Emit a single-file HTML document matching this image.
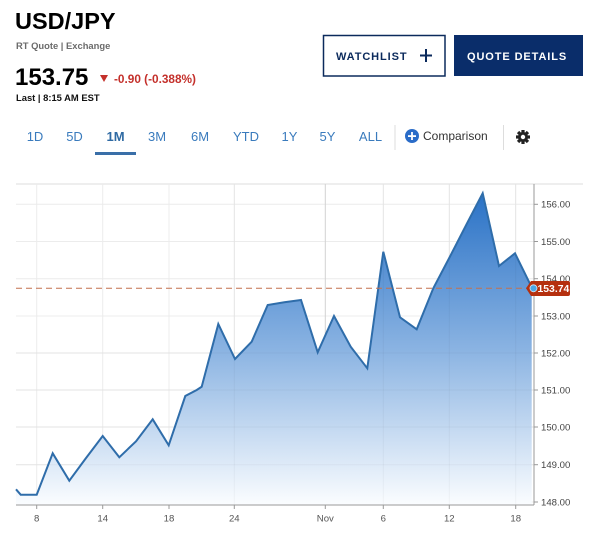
<!DOCTYPE html>
<html><head><meta charset="utf-8"><style>
html,body{margin:0;padding:0;background:#fff;}
svg{display:block;font-family:"Liberation Sans",Arial,sans-serif;}
</style></head><body>
<svg width="600" height="543" viewBox="0 0 600 543" xmlns="http://www.w3.org/2000/svg">
<defs>
<linearGradient id="g" x1="0" y1="193" x2="0" y2="505" gradientUnits="userSpaceOnUse">
<stop offset="0" stop-color="#2a72c6"/>
<stop offset="0.5" stop-color="#8ab3e2"/>
<stop offset="1" stop-color="#fbfdff"/>
</linearGradient>
</defs>
<rect width="600" height="543" fill="#fff"/>
<!-- header -->
<text x="15" y="29" font-size="23.5" font-weight="bold" fill="#000">USD/JPY</text>
<text x="16" y="49" font-size="9.4" font-weight="bold" fill="#6b6b6b">RT Quote | Exchange</text>
<text x="15" y="85" font-size="24" font-weight="bold" fill="#000">153.75</text>
<polygon points="100,75 108,75 104,82" fill="#c4302b"/>
<text x="114" y="83" font-size="11.8" font-weight="bold" fill="#c4302b">-0.90 (-0.388%)</text>
<text x="16" y="101" font-size="9.4" font-weight="bold" fill="#111">Last | 8:15 AM EST</text>
<!-- buttons -->
<rect x="323.5" y="35.5" width="121.5" height="40.5" fill="#fff" stroke="#0b2a5c" stroke-width="1.5"/>
<text x="336" y="60" font-size="11" font-weight="bold" fill="#0b2a5c" letter-spacing="0.9">WATCHLIST</text>
<rect x="420" y="54.5" width="12" height="2" fill="#0b2a5c"/>
<rect x="425" y="49" width="2" height="13" fill="#0b2a5c"/>
<rect x="454" y="35" width="129" height="41" fill="#0a2d6a"/>
<text x="467" y="60" font-size="11" font-weight="bold" fill="#fff" letter-spacing="0.9">QUOTE DETAILS</text>
<!-- tabs -->
<g font-size="13" fill="#3a7bbd" text-anchor="middle">
<text x="35" y="141">1D</text>
<text x="74.5" y="141">5D</text>
<text x="115.5" y="141" font-weight="bold" fill="#2f6aa3">1M</text>
<text x="157" y="141">3M</text>
<text x="200" y="141">6M</text>
<text x="246" y="141">YTD</text>
<text x="289.5" y="141">1Y</text>
<text x="327.5" y="141">5Y</text>
<text x="370.5" y="141">ALL</text>
</g>
<rect x="95" y="152" width="41" height="3" fill="#3a6fa8"/>
<rect x="394.5" y="125" width="1" height="25" fill="#ddd"/>
<circle cx="412" cy="136" r="7" fill="#2a6cc8"/>
<rect x="408" y="135.2" width="8" height="1.8" fill="#fff"/>
<rect x="411.1" y="132" width="1.8" height="8" fill="#fff"/>
<text x="423" y="140" font-size="12" fill="#333">Comparison</text>
<rect x="503" y="125" width="1" height="25" fill="#ddd"/>
<g transform="translate(523,137)" fill="#222">
<g>
<rect x="-1.6" y="-7" width="3.2" height="14"/>
<rect x="-1.6" y="-7" width="3.2" height="14" transform="rotate(45)"/>
<rect x="-1.6" y="-7" width="3.2" height="14" transform="rotate(90)"/>
<rect x="-1.6" y="-7" width="3.2" height="14" transform="rotate(135)"/>
</g>
<circle r="5" fill="#222"/>
<circle r="2.2" fill="#fff"/>
</g>
<!-- chart grid -->
<line x1="16" y1="184" x2="583" y2="184" stroke="#ddd" stroke-width="1"/>
<g stroke="#ececec" stroke-width="1">
<line x1="16" y1="204.3" x2="534" y2="204.3"/>
<line x1="16" y1="241.5" x2="534" y2="241.5"/>
<line x1="16" y1="278.7" x2="534" y2="278.7"/>
<line x1="16" y1="316" x2="534" y2="316"/>
<line x1="16" y1="353" x2="534" y2="353"/>
<line x1="16" y1="390" x2="534" y2="390"/>
<line x1="16" y1="427" x2="534" y2="427"/>
<line x1="16" y1="464.7" x2="534" y2="464.7"/>
<line x1="16" y1="502" x2="534" y2="502"/>
<line x1="36.7" y1="184" x2="36.7" y2="505"/>
<line x1="102.7" y1="184" x2="102.7" y2="505"/>
<line x1="169" y1="184" x2="169" y2="505"/>
<line x1="234.3" y1="184" x2="234.3" y2="505"/>
<line x1="383.3" y1="184" x2="383.3" y2="505"/>
<line x1="449.3" y1="184" x2="449.3" y2="505"/>
<line x1="515.7" y1="184" x2="515.7" y2="505"/>
</g>
<line x1="325.3" y1="184" x2="325.3" y2="505" stroke="#d2d2d2" stroke-width="1"/>
<!-- area -->
<path d="M16,489.3 L20.7,494.7 L36.7,494.7 L52.7,453.3 L69.3,480.7 L85.3,459 L102.7,436 L119.3,457.3 L136,441.3 L152.7,419.3 L168.7,445.3 L185.3,396 L196.7,390 L201.7,386.7 L218.3,324 L235,359 L251.7,341.7 L267.7,305 L284.3,302.3 L301,300 L317.7,352.3 L334,316 L350.7,346.7 L367.3,368.3 L383.3,251.7 L400,317.3 L416.7,329.3 L433.3,288.3 L450,256.5 L466.7,224 L482.7,193.3 L499,266 L515,253.3 L531.7,287.3 L531.7,505 L16,505 Z" fill="url(#g)"/>
<g stroke="#000" stroke-opacity="0.035" stroke-width="1">
<line x1="16" y1="427" x2="534" y2="427"/>
<line x1="16" y1="464.7" x2="534" y2="464.7"/>
<line x1="16" y1="390" x2="534" y2="390"/>
<line x1="16" y1="353" x2="534" y2="353"/>
<line x1="234.3" y1="184" x2="234.3" y2="505"/>
<line x1="383.3" y1="184" x2="383.3" y2="505"/>
<line x1="449.3" y1="184" x2="449.3" y2="505"/>
<line x1="515.7" y1="184" x2="515.7" y2="505"/>
</g>
<path d="M16,489.3 L20.7,494.7 L36.7,494.7 L52.7,453.3 L69.3,480.7 L85.3,459 L102.7,436 L119.3,457.3 L136,441.3 L152.7,419.3 L168.7,445.3 L185.3,396 L196.7,390 L201.7,386.7 L218.3,324 L235,359 L251.7,341.7 L267.7,305 L284.3,302.3 L301,300 L317.7,352.3 L334,316 L350.7,346.7 L367.3,368.3 L383.3,251.7 L400,317.3 L416.7,329.3 L433.3,288.3 L450,256.5 L466.7,224 L482.7,193.3 L499,266 L515,253.3 L531.7,287.3" fill="none" stroke="#2f6daa" stroke-width="2" stroke-linejoin="miter"/>
<!-- dashed last price -->
<line x1="16" y1="288.3" x2="532" y2="288.3" stroke="#c4714f" stroke-width="1" stroke-dasharray="6,4"/>
<!-- axes -->
<line x1="16" y1="505" x2="534" y2="505" stroke="#999" stroke-width="1"/>
<line x1="534" y1="184" x2="534" y2="505" stroke="#999" stroke-width="1"/>
<g stroke="#999" stroke-width="1">
<line x1="534" y1="204.3" x2="538" y2="204.3"/>
<line x1="534" y1="241.5" x2="538" y2="241.5"/>
<line x1="534" y1="278.7" x2="538" y2="278.7"/>
<line x1="534" y1="316" x2="538" y2="316"/>
<line x1="534" y1="353" x2="538" y2="353"/>
<line x1="534" y1="390" x2="538" y2="390"/>
<line x1="534" y1="427" x2="538" y2="427"/>
<line x1="534" y1="464.7" x2="538" y2="464.7"/>
<line x1="534" y1="502" x2="538" y2="502"/>
<line x1="36.7" y1="505" x2="36.7" y2="509"/>
<line x1="102.7" y1="505" x2="102.7" y2="509"/>
<line x1="169" y1="505" x2="169" y2="509"/>
<line x1="234.3" y1="505" x2="234.3" y2="509"/>
<line x1="325.3" y1="505" x2="325.3" y2="509"/>
<line x1="383.3" y1="505" x2="383.3" y2="509"/>
<line x1="449.3" y1="505" x2="449.3" y2="509"/>
<line x1="515.7" y1="505" x2="515.7" y2="509"/>
</g>
<g font-size="9.6" fill="#444">
<text x="541" y="207.6">156.00</text>
<text x="541" y="244.8">155.00</text>
<text x="541" y="282">154.00</text>
<text x="541" y="319.3">153.00</text>
<text x="541" y="356.3">152.00</text>
<text x="541" y="393.3">151.00</text>
<text x="541" y="430.3">150.00</text>
<text x="541" y="468">149.00</text>
<text x="541" y="505.3">148.00</text>
</g>
<g font-size="9.6" fill="#555" text-anchor="middle">
<text x="36.7" y="521.5">8</text>
<text x="102.7" y="521.5">14</text>
<text x="169" y="521.5">18</text>
<text x="234.3" y="521.5">24</text>
<text x="325.3" y="521.5">Nov</text>
<text x="383.3" y="521.5">6</text>
<text x="449.3" y="521.5">12</text>
<text x="515.7" y="521.5">18</text>
</g>
<!-- price badge -->
<path d="M526,288.3 L531,281 L568,281 Q570,281 570,283 L570,294 Q570,296 568,296 L531,296 Z" fill="#b5300f"/>
<circle cx="533.5" cy="288.3" r="3.5" fill="#4ba6e6" stroke="#cfe6f7" stroke-width="0.8"/>
<text x="537.5" y="292.2" font-size="10.4" font-weight="bold" fill="#fff">153.74</text>
</svg>
</body></html>
